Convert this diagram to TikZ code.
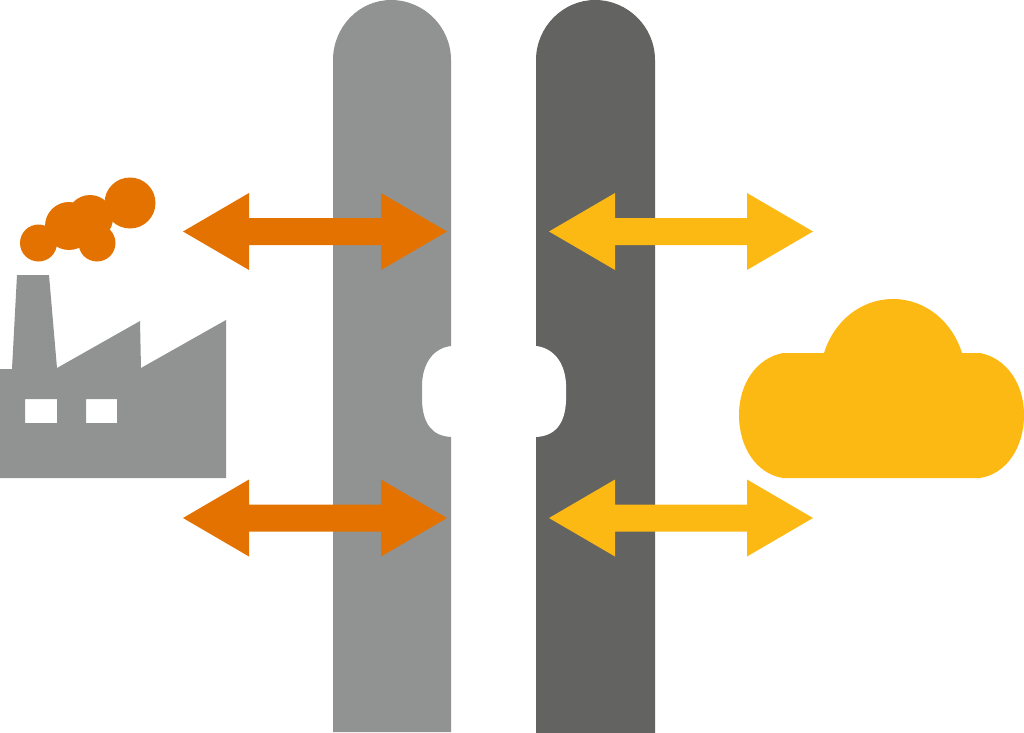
\documentclass[tikz,border=0pt]{standalone}
\definecolor{lightgrey}{HTML}{919392}
\definecolor{darkgrey}{HTML}{636361}
\definecolor{orangeink}{HTML}{E37200}
\definecolor{yellowink}{HTML}{FCB913}
\tikzset{
  pillarlight/.style={fill=lightgrey,draw=none},
  pillardark/.style={fill=darkgrey,draw=none},
  factoryshape/.style={fill=lightgrey,draw=none,even odd rule},
  smoke/.style={fill=orangeink,draw=none},
  cloudshape/.style={fill=yellowink,draw=none},
  doublearrow/.pic={
    \fill[pic actions] (0,0) -- (66,-38.5) -- (66,-13.5) -- (198,-13.5) -- (198,-38.5)
      -- (264,0) -- (198,38.5) -- (198,13.5) -- (66,13.5) -- (66,38.5) -- cycle;
  }
}
\begin{document}
\begin{tikzpicture}[x=1bp,y=-1bp]
\useasboundingbox (0,0) rectangle (1024,733);
% pillars
\path[pillarlight] (333,732) -- (333,60)
  .. controls (333,27) and (359,0) .. (391,0)
  .. controls (424,0) and (451,27) .. (451,60)
  -- (451,346)
  .. controls (434,348) and (423,362) .. (422,384)
  -- (422,401)
  .. controls (423,424) and (432,436) .. (451,437)
  -- (451,732) -- cycle;
\path[pillardark] (536,733) -- (536,60)
  .. controls (536,27) and (563,0) .. (595,0)
  .. controls (628,0) and (655,27) .. (655,60)
  -- (655,733) -- cycle;
\path[fill=white] (536,346)
  .. controls (553,348) and (565,362) .. (566,384)
  -- (566,401)
  .. controls (565,424) and (555,436) .. (536,437) -- cycle;
% arrows
\pic[fill=orangeink] at (183,231.5) {doublearrow};
\pic[fill=orangeink] at (183,518) {doublearrow};
\pic[fill=yellowink] at (549,231.5) {doublearrow};
\pic[fill=yellowink] at (549,518) {doublearrow};
% factory
\path[factoryshape] (0,369) -- (12,369) -- (17,275) -- (49,275) -- (57,368)
  -- (140,321) -- (141,368) -- (226,320) -- (226,478) -- (0,478) -- cycle
  (25,399) rectangle (57,423)
  (86,399) rectangle (117,423);
% smoke
\fill[smoke] (130,203) circle[radius=25.5];
\fill[smoke] (69,226) circle[radius=24];
\fill[smoke] (90,218) circle[radius=23];
\fill[smoke] (97,243) circle[radius=18.5];
\fill[smoke] (38.5,243) circle[radius=18.5];
% cloud
\path[cloudshape] (783,478)
  .. controls (757,474) and (739,448) .. (739,415)
  .. controls (739,383) and (757,358) .. (783,353)
  -- (824,353)
  .. controls (834,321) and (861,299) .. (893,299)
  .. controls (925,299) and (952,321) .. (962,353)
  -- (980,353)
  .. controls (1006,358) and (1024,383) .. (1024,415)
  .. controls (1024,448) and (1006,474) .. (980,478) -- cycle;
\end{tikzpicture}
\end{document}
